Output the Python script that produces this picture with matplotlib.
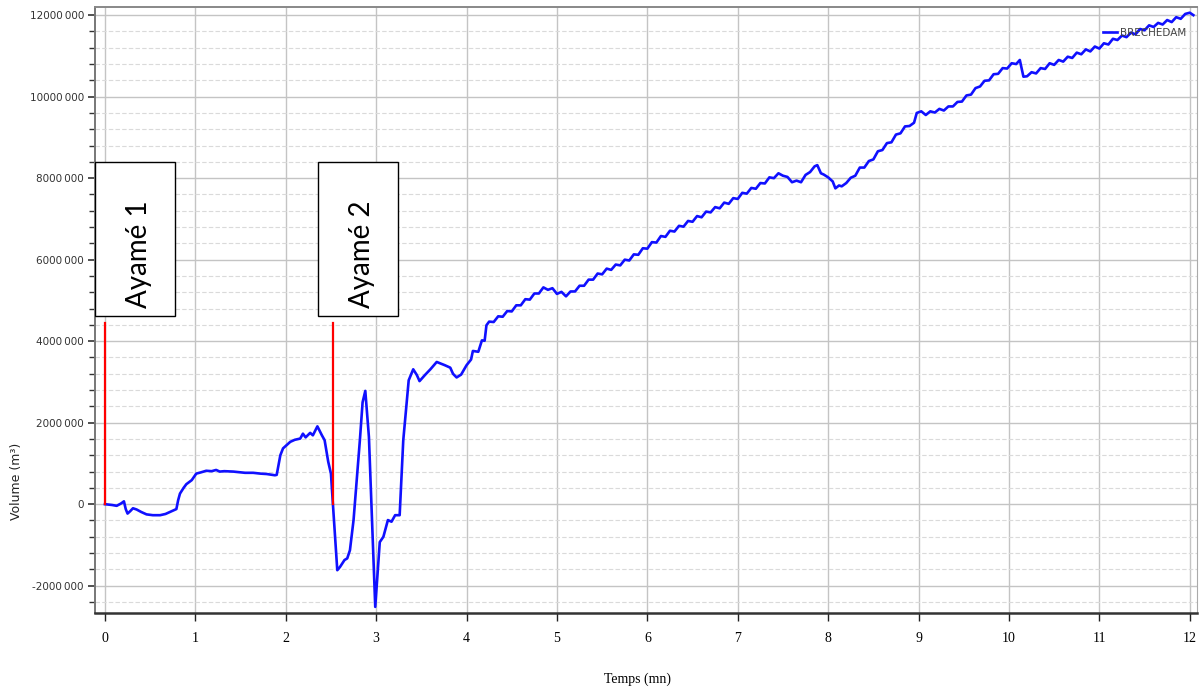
import numpy as np
from matplotlib import pyplot as plt
from matplotlib.patches import Rectangle
from matplotlib.ticker import MultipleLocator, FuncFormatter

# Volume (millions of m3) against time (minutes)
temps = [
    0.00, 0.08, 0.13, 0.18, 0.21, 0.23, 0.25, 0.28, 0.31, 0.35, 0.40, 0.46,
    0.53, 0.61, 0.67, 0.72, 0.76, 0.79, 0.81, 0.83, 0.87, 0.90, 0.96, 1.01,
    1.06, 1.12, 1.18, 1.23, 1.27, 1.32, 1.42, 1.50, 1.55, 1.64, 1.72, 1.79,
    1.88, 1.90, 1.94, 1.97, 2.05, 2.10, 2.16, 2.19, 2.22, 2.27, 2.30, 2.35,
    2.40, 2.43, 2.47, 2.50, 2.52, 2.57, 2.60, 2.65, 2.68, 2.71, 2.75, 2.82,
    2.85, 2.88, 2.92, 2.99, 3.04, 3.08, 3.13, 3.17, 3.21, 3.26, 3.30, 3.36,
    3.41, 3.45, 3.48, 3.54, 3.60, 3.67, 3.76, 3.82, 3.85, 3.89, 3.94, 4.00,
    4.05, 4.07, 4.13, 4.17, 4.20, 4.22,
    4.25, 4.30, 4.35, 4.40, 4.45, 4.50, 4.55, 4.60, 4.65, 4.70, 4.75, 4.80,
    4.85, 4.90, 4.95, 5.00, 5.05, 5.10, 5.15, 5.20, 5.25, 5.30, 5.35, 5.40,
    5.45, 5.50, 5.55, 5.60, 5.65, 5.70, 5.75, 5.80, 5.85, 5.90, 5.95, 6.00,
    6.05, 6.10, 6.15, 6.20, 6.25, 6.30, 6.35, 6.40, 6.45, 6.50, 6.55, 6.60,
    6.65, 6.70, 6.75, 6.80, 6.85, 6.90, 6.95, 7.00, 7.05, 7.10, 7.15, 7.20,
    7.25, 7.30, 7.35, 7.40, 7.45, 7.50, 7.55, 7.60, 7.65, 7.70, 7.75, 7.80,
    7.85, 7.88, 7.92, 7.95, 8.00, 8.05, 8.08, 8.12, 8.15, 8.20, 8.25, 8.30,
    8.35, 8.40, 8.45, 8.50, 8.55, 8.60, 8.65, 8.70, 8.75, 8.80, 8.85, 8.90,
    8.95, 8.98, 9.03, 9.08, 9.13, 9.18, 9.23, 9.28, 9.33, 9.38, 9.43, 9.48,
    9.53, 9.58, 9.63, 9.68, 9.73, 9.78, 9.83, 9.88, 9.93, 9.98, 10.03, 10.08,
    10.12, 10.16, 10.20, 10.25, 10.30, 10.35, 10.40, 10.45, 10.50, 10.55, 10.60, 10.65,
    10.70, 10.75, 10.80, 10.85, 10.90, 10.95, 11.00, 11.05, 11.10, 11.15, 11.20, 11.25,
    11.30, 11.35, 11.40, 11.45, 11.50, 11.55, 11.60, 11.65, 11.70, 11.75, 11.80, 11.85,
    11.90, 11.95, 12.00, 12.04,
]
volume_m = [
    0.00, -0.02, -0.04, 0.02, 0.07, -0.12, -0.23, -0.17, -0.10, -0.13, -0.19, -0.25,
    -0.27, -0.27, -0.24, -0.19, -0.15, -0.12, 0.10, 0.26, 0.40, 0.49, 0.59, 0.75,
    0.78, 0.82, 0.81, 0.84, 0.80, 0.81, 0.80, 0.78, 0.77, 0.77, 0.75, 0.74,
    0.71, 0.72, 1.20, 1.37, 1.53, 1.58, 1.61, 1.73, 1.64, 1.75, 1.69, 1.91,
    1.69, 1.57, 1.04, 0.75, 0.06, -1.62, -1.54, -1.37, -1.33, -1.13, -0.39, 1.57,
    2.50, 2.78, 1.65, -2.52, -0.93, -0.80, -0.39, -0.43, -0.27, -0.27, 1.57, 3.04,
    3.31, 3.17, 3.02, 3.17, 3.31, 3.49, 3.41, 3.35, 3.20, 3.11, 3.18, 3.41,
    3.55, 3.76, 3.74, 4.02, 4.01, 4.39,
    4.48, 4.47, 4.61, 4.60, 4.74, 4.73, 4.88, 4.88, 5.03, 5.02, 5.17, 5.17,
    5.32, 5.26, 5.30, 5.16, 5.21, 5.10, 5.22, 5.22, 5.36, 5.36, 5.51, 5.51,
    5.66, 5.64, 5.78, 5.75, 5.88, 5.86, 6.00, 5.98, 6.13, 6.12, 6.28, 6.27,
    6.43, 6.42, 6.58, 6.56, 6.71, 6.69, 6.83, 6.81, 6.95, 6.93, 7.07, 7.04,
    7.18, 7.16, 7.29, 7.26, 7.40, 7.37, 7.51, 7.49, 7.64, 7.62, 7.76, 7.74,
    7.88, 7.87, 8.02, 8.00, 8.12, 8.06, 8.03, 7.90, 7.94, 7.90, 8.08, 8.15,
    8.29, 8.32, 8.12, 8.09, 8.02, 7.92, 7.75, 7.82, 7.80, 7.88, 8.01, 8.06,
    8.26, 8.26, 8.42, 8.46, 8.66, 8.69, 8.86, 8.88, 9.07, 9.10, 9.27, 9.28,
    9.36, 9.60, 9.64, 9.55, 9.64, 9.61, 9.70, 9.66, 9.76, 9.76, 9.87, 9.88,
    10.03, 10.05, 10.21, 10.25, 10.39, 10.40, 10.55, 10.56, 10.70, 10.69, 10.82, 10.80,
    10.90, 10.49, 10.50, 10.60, 10.57, 10.70, 10.68, 10.82, 10.78, 10.90, 10.86, 10.98,
    10.95, 11.08, 11.04, 11.16, 11.11, 11.23, 11.18, 11.31, 11.28, 11.42, 11.39, 11.50,
    11.46, 11.57, 11.53, 11.66, 11.63, 11.75, 11.71, 11.81, 11.77, 11.88, 11.83, 11.95,
    11.91, 12.03, 12.06, 12.00,
]

# Start of each dam break (red markers) and their labels
event_times = [0.0, 2.52]
event_top_m = 4.45
event_labels = ["Ayamé 1", "Ayamé 2"]

fig = plt.figure(figsize=(12, 6.9), dpi=100)
ax = fig.add_axes([95 / 1200, 1 - 613 / 690, 1102 / 1200, 606 / 690])

ax.plot(temps, np.array(volume_m) * 1e6, color="#1010ff", linewidth=1.9,
        label="BRECHEDAM", zorder=4)

for t in event_times:
    ax.plot([t, t], [0, event_top_m * 1e6], color="red", linewidth=1.6, zorder=5)

# Label boxes above the red markers
box_left = [-0.11, 2.356]
for left, lab in zip(box_left, event_labels):
    ax.add_patch(Rectangle((left, 4.61e6), 0.885, 3.78e6, facecolor="white",
                           edgecolor="black", linewidth=1.0, zorder=6))
    ax.text(left + 0.485, 6.13e6, lab, rotation=90, ha="center", va="center",
            fontsize=20, family="Lato", zorder=7)

ax.set_xlim(-0.11, 12.08)
ax.set_ylim(-2.67e6, 12.2e6)

ax.xaxis.set_major_locator(MultipleLocator(1))
ax.yaxis.set_major_locator(MultipleLocator(2e6))
ax.yaxis.set_minor_locator(MultipleLocator(4e5))


def fmt_vol(v, pos):
    v = int(round(v))
    if v == 0:
        return "0"
    s = str(abs(v))
    txt = s[:-3] + "\u2009" + s[-3:]
    return "-" + txt if v < 0 else txt


ax.yaxis.set_major_formatter(FuncFormatter(fmt_vol))

ax.grid(True, which="major", axis="both", color="#c4c4c4", linewidth=1.0)
ax.grid(True, which="minor", axis="y", color="#dadada", linewidth=0.8,
        linestyle=(0, (4, 2)))
ax.set_axisbelow(True)

ax.tick_params(axis="y", which="major", length=5, width=1.2, color="#333333",
               labelsize=7.5, labelcolor="#333333", pad=3)
ax.tick_params(axis="y", which="minor", length=4, width=1.0, color="#333333")
ax.tick_params(axis="x", which="major", length=6, width=1.0, color="#222222",
               labelsize=10, pad=8)
for lbl in ax.get_xticklabels():
    lbl.set_family("Liberation Serif")

ax.spines["bottom"].set_color("#333333")
ax.spines["bottom"].set_linewidth(1.8)
ax.spines["left"].set_color("#777777")
ax.spines["left"].set_linewidth(1.4)
ax.spines["top"].set_color("#888888")
ax.spines["top"].set_linewidth(1.4)
ax.spines["right"].set_color("#aaaaaa")
ax.spines["right"].set_linewidth(0.8)

fig.text(637 / 1200, 1 - 679 / 690, "Temps (mn)", ha="center", va="center",
         fontsize=10, family="Liberation Serif")
fig.text(17 / 1200, 1 - 481 / 690, "Volume (m³)", ha="center", va="center",
         rotation=90, fontsize=9, color="#222222")

ax.legend(loc="center right", bbox_to_anchor=(0.995, 0.957), frameon=False,
          fontsize=7.5, handlelength=1.3, handletextpad=0.3, borderpad=0,
          labelcolor="#444444")

plt.savefig("out.png", dpi=100)
